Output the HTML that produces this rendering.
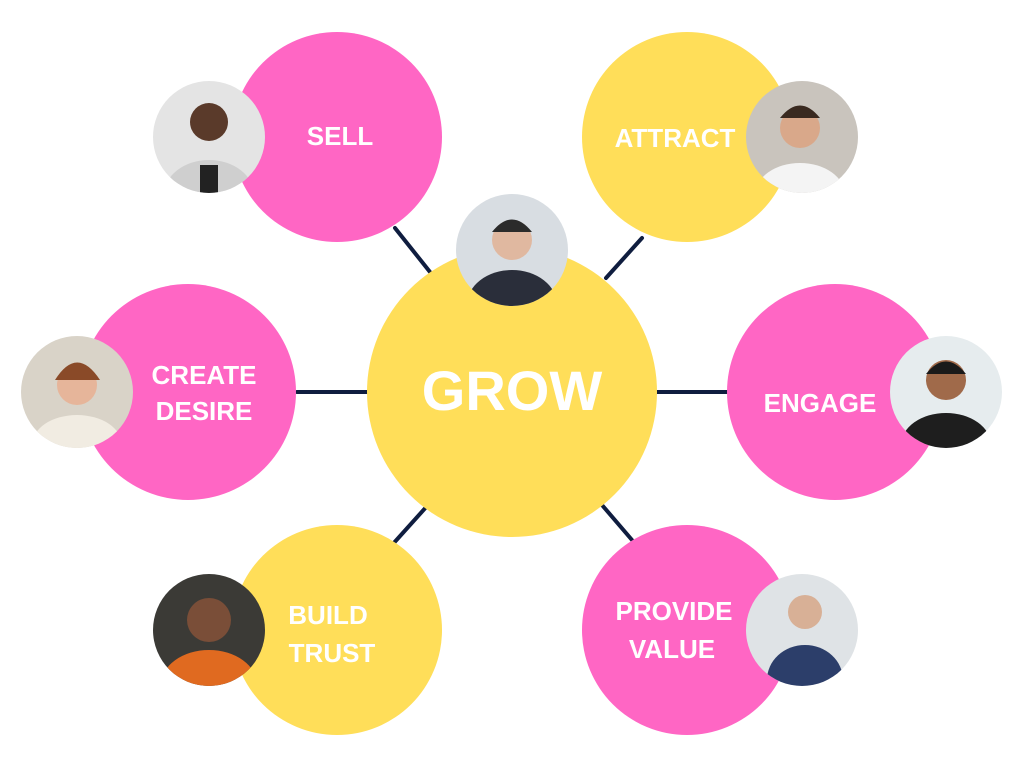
<!DOCTYPE html>
<html><head><meta charset="utf-8"><style>
html,body{margin:0;padding:0;background:#fff;}
svg{display:block}
text{font-family:"Liberation Sans",Arial,sans-serif;font-weight:bold;fill:#fff;text-anchor:middle}
</style></head><body>
<svg width="1024" height="768" viewBox="0 0 1024 768" xmlns="http://www.w3.org/2000/svg">
<g stroke="#0f1d3f" stroke-width="4" stroke-linecap="round">
<line x1="395" y1="228" x2="430" y2="272"/>
<line x1="642" y1="238" x2="606" y2="278"/>
<line x1="297" y1="392" x2="367" y2="392"/>
<line x1="657" y1="392" x2="727" y2="392"/>
<line x1="428" y1="505" x2="392" y2="545"/>
<line x1="602" y1="505" x2="632" y2="540"/>
</g>
<circle cx="337" cy="137" r="105" fill="#ff66c4"/>
<circle cx="687" cy="137" r="105" fill="#ffde59"/>
<circle cx="188" cy="392" r="108" fill="#ff66c4"/>
<circle cx="835" cy="392" r="108" fill="#ff66c4"/>
<circle cx="337" cy="630" r="105" fill="#ffde59"/>
<circle cx="687" cy="630" r="105" fill="#ff66c4"/>
<circle cx="512" cy="392" r="145" fill="#ffde59"/>

<defs>
<clipPath id="c1"><circle cx="209" cy="137" r="56"/></clipPath>
<clipPath id="c2"><circle cx="802" cy="137" r="56"/></clipPath>
<clipPath id="c3"><circle cx="512" cy="250" r="56"/></clipPath>
<clipPath id="c4"><circle cx="77" cy="392" r="56"/></clipPath>
<clipPath id="c5"><circle cx="946" cy="392" r="56"/></clipPath>
<clipPath id="c6"><circle cx="209" cy="630" r="56"/></clipPath>
<clipPath id="c7"><circle cx="802" cy="630" r="56"/></clipPath>
</defs>
<!-- photos -->
<g clip-path="url(#c1)"><rect x="150" y="80" width="120" height="120" fill="#e4e4e4"/><ellipse cx="209" cy="195" rx="45" ry="35" fill="#cfcfcf"/><rect x="200" y="165" width="18" height="30" fill="#222"/><circle cx="209" cy="122" r="19" fill="#5a3a2a"/></g>
<g clip-path="url(#c2)"><rect x="744" y="80" width="120" height="120" fill="#c9c4bd"/><ellipse cx="800" cy="195" rx="45" ry="32" fill="#f4f4f4"/><circle cx="800" cy="128" r="20" fill="#d9a88a"/><path d="M780 118 q20 -25 40 0 z" fill="#3a2a20"/></g>
<g clip-path="url(#c3)"><rect x="454" y="192" width="120" height="120" fill="#d8dde2"/><ellipse cx="512" cy="305" rx="45" ry="35" fill="#2a2e3a"/><circle cx="512" cy="240" r="20" fill="#e0b8a0"/><path d="M492 232 q20 -25 40 0 z" fill="#2b2b2b"/></g>
<g clip-path="url(#c4)"><rect x="20" y="334" width="120" height="120" fill="#d9d3c8"/><ellipse cx="77" cy="445" rx="45" ry="30" fill="#f1ece2"/><circle cx="77" cy="385" r="20" fill="#e6b59a"/><path d="M55 380 q22 -35 45 0 z" fill="#8a4a28"/></g>
<g clip-path="url(#c5)"><rect x="888" y="334" width="120" height="120" fill="#e6ecee"/><ellipse cx="946" cy="445" rx="45" ry="32" fill="#1e1e1e"/><circle cx="946" cy="380" r="20" fill="#a06a4a"/><path d="M926 374 q20 -25 40 0 z" fill="#1a1a1a"/></g>
<g clip-path="url(#c6)"><rect x="150" y="572" width="120" height="120" fill="#3b3a36"/><ellipse cx="209" cy="685" rx="48" ry="35" fill="#e06a20"/><circle cx="209" cy="620" r="22" fill="#7a4e38"/></g>
<g clip-path="url(#c7)"><rect x="744" y="572" width="120" height="120" fill="#dfe3e6"/><ellipse cx="805" cy="680" rx="38" ry="35" fill="#2c3e6a"/><circle cx="805" cy="612" r="17" fill="#d8b096"/></g>

<text x="512" y="410" font-size="56">GROW</text>
<text x="340" y="145" font-size="26">SELL</text>
<text x="675" y="147" font-size="26">ATTRACT</text>
<text x="204" y="384" font-size="26">CREATE</text>
<text x="204" y="420" font-size="26">DESIRE</text>
<text x="820" y="412" font-size="26">ENGAGE</text>
<text x="328" y="624" font-size="26">BUILD</text>
<text x="332" y="662" font-size="26">TRUST</text>
<text x="674" y="620" font-size="26">PROVIDE</text>
<text x="672" y="658" font-size="26">VALUE</text>
</svg>
</body></html>
